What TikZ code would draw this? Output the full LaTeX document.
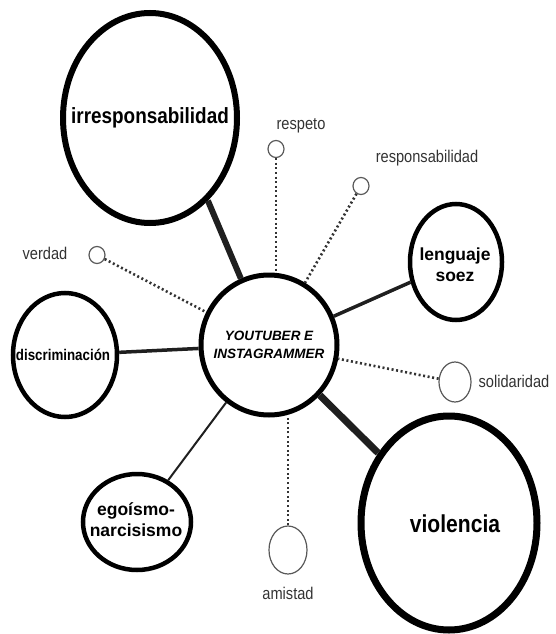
\documentclass[tikz,border=0pt]{standalone}
\usepackage{fontspec}
\setmainfont{Liberation Sans}
\newfontfamily\cond[FakeStretch=0.86]{Liberation Sans}
\usetikzlibrary{shapes.geometric}
\begin{document}
\begin{tikzpicture}[x=1pt,y=-1pt,
  big/.style={draw=black,ellipse,inner sep=0pt},
  txt/.style={align=center,inner sep=0pt},
  small/.style={draw=black!65,ellipse,line width=1.2pt,inner sep=0pt},
  lbl/.style={font=\cond\fontsize{17}{19}\selectfont,text=black!80},
  dotline/.style={line width=2.6pt,dash pattern=on 2pt off 2.6pt,draw=black!80},
  conn/.style={draw=black!88}]
\useasboundingbox (0,0) rectangle (555,634);
% main ellipses
\node[big,line width=5pt,minimum width=136pt,minimum height=140pt] (main) at (269,345) {};
\node[big,line width=6pt,minimum width=174pt,minimum height=210pt] (irr) at (150,118) {};
\node[big,line width=4.5pt,minimum width=92pt,minimum height=116pt] (len) at (456,262) {};
\node[big,line width=4.5pt,minimum width=104pt,minimum height=124pt] (dis) at (65,355) {};
\node[big,line width=7pt,minimum width=176pt,minimum height=214pt] (vio) at (449,523) {};
\node[big,line width=4.5pt,minimum width=108pt,minimum height=96pt] (ego) at (137,522) {};
% texts
\node[txt,font=\bfseries\itshape\fontsize{13.5}{18}\selectfont] (tmain) at (269,345) {YOUTUBER E\\INSTAGRAMMER};
\node[txt,font=\cond\bfseries\fontsize{22}{26}\selectfont] (tirr) at (150,118) {irresponsabilidad};
\node[txt,font=\bfseries\fontsize{17.5}{21}\selectfont] (tlen) at (455,265) {lenguaje\\soez};
\node[txt,font=\cond\bfseries\fontsize{15.5}{17}\selectfont] (tdis) at (63,355) {discriminación};
\node[txt,font=\cond\bfseries\fontsize{24.5}{28}\selectfont] (tvio) at (455,524) {violencia};
\node[txt,font=\bfseries\fontsize{17.5}{21}\selectfont] (tego) at (136,520) {egoísmo-\\narcisismo};
% small circles
\node[small,minimum width=16pt,minimum height=17pt] (ver) at (97,255) {};
\node[small,minimum width=16pt,minimum height=17pt] (res) at (276,149) {};
\node[small,minimum width=16pt,minimum height=17pt] (rsp) at (361,186) {};
\node[small,minimum width=32pt,minimum height=40pt] (sol) at (455,382) {};
\node[small,minimum width=38pt,minimum height=48pt] (ami) at (288,550) {};
% labels
\node[lbl] (lver) at (45,253) {verdad};
\node[lbl] (lres) at (301,126) {respeto};
\node[lbl] (lrsp) at (427,158) {responsabilidad};
\node[lbl] (lsol) at (514,381) {solidaridad};
\node[lbl] (lami) at (288,593) {amistad};
% connectors
\draw[conn,line width=6pt] (main) -- (irr.-55);
\draw[conn,line width=3.5pt] (main) -- (len);
\draw[conn,line width=3.5pt] (main) -- (dis);
\draw[conn,line width=7pt] (main) -- (vio);
\draw[conn,line width=2pt] (main) -- (ego);
\draw[dotline] (ver) -- (main);
\draw[dotline] (res) -- (res |- main.north);
\draw[dotline] (rsp) -- (main);
\draw[dotline] (sol) -- (main);
\draw[dotline] (ami) -- (ami |- main.south);
\end{tikzpicture}
\end{document}
